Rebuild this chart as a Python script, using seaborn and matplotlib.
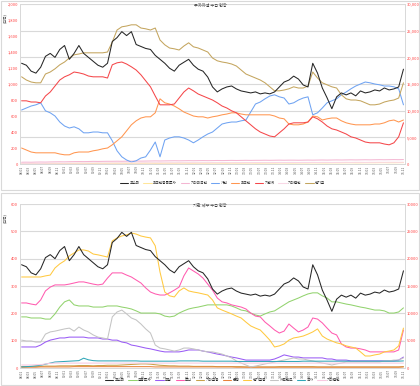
import matplotlib
matplotlib.use("Agg")
import matplotlib.pyplot as plt
from matplotlib.patches import Rectangle
from matplotlib.ticker import FuncFormatter
import seaborn as sns
import numpy as np

# x-axis labels (every other month)
years = [8, 9, 10, 11, 12, 13, 14, 15, 16]
months = [1, 3, 5, 7, 9, 11]
x_labels = [f"{y:02d}.{m:02d}" for y in years for m in months]

# ---- shared series (right axis) ----
kospi = [18890, 18520, 17410, 17040, 18150, 20190, 20740, 20000, 21480, 22220,
         19630, 20740, 22220, 20740, 20000, 19260, 18520, 18150, 18890, 22960,
         23700, 24820, 24080, 24820, 22410, 22040, 21670, 21480, 20370, 19630,
         18890, 17960, 17410, 18520, 19080, 19630, 18520, 17780, 17410, 16300,
         14450, 13520, 14080, 14450, 14630, 14080, 13700, 13520, 13330, 13520,
         13150, 13330, 13150, 13520, 14450, 15370, 15740, 16480, 15930, 14820,
         14450, 18890, 17040, 14260, 12410, 10370, 12590, 13330, 12960, 13330,
         12780, 13700, 13330, 13520, 13890, 13700, 14260, 13890, 14080, 14450,
         17780]

# ---- top chart (left axis) ----
frgn_reg = [6, 6, 5, 5, 6, 6, 7, 7, 6, 6, 7, 7, 8, 8, 7, 7, 8, 8, 8, 9,
            9, 9, 8, 8, 9, 9, 10, 10, 9, 9, 10, 10, 10, 11, 11, 10, 10, 11, 11, 11,
            12, 12, 11, 11, 12, 12, 12, 13, 13, 12, 12, 13, 13, 13, 14, 14, 13, 13, 14, 14,
            14, 15, 15, 14, 14, 15, 15, 15, 16, 16, 15, 15, 16, 16, 16, 17, 17, 16, 16, 17,
            18]
frgn_etc = [22, 23, 22, 24, 25, 24, 26, 27, 28, 27, 29, 30, 31, 30, 31, 33, 32, 33, 34, 34,
            35, 34, 35, 36, 37, 36, 37, 38, 39, 38, 39, 40, 41, 40, 41, 42, 41, 42, 43, 42,
            43, 44, 43, 44, 45, 44, 45, 46, 45, 46, 46, 47, 46, 47, 48, 47, 48, 48, 47, 48,
            49, 48, 49, 50, 49, 50, 51, 50, 51, 52, 51, 52, 53, 52, 53, 54, 53, 54, 55, 54,
            56]
individual = [675, 700, 725, 740, 765, 665, 640, 600, 525, 475,
              450, 465, 440, 390, 390, 400, 400, 390, 390, 290,
              165, 90, 50, 25, 40, 75, 90, 175, 275, 90,
              300, 325, 340, 340, 325, 300, 265, 300, 340, 375,
              400, 450, 500, 515, 525, 525, 540, 550, 650, 750,
              775, 815, 850, 865, 840, 825, 750, 765, 800, 825,
              840, 615, 640, 700, 765, 790, 815, 865, 900, 940,
              975, 1000, 1025, 1015, 1000, 990, 975, 975, 965, 940,
              740]
foreign = [200, 175, 150, 140, 140, 140, 140, 140, 125, 115,
           115, 140, 150, 150, 150, 165, 175, 190, 200, 240,
           290, 340, 415, 490, 540, 575, 590, 590, 640, 815,
           765, 750, 725, 690, 650, 625, 600, 590, 590, 575,
           590, 600, 615, 625, 640, 640, 625, 615, 615, 615,
           615, 615, 615, 600, 575, 565, 500, 490, 490, 500,
           525, 600, 590, 550, 565, 575, 575, 540, 515, 500,
           490, 490, 490, 490, 500, 500, 515, 540, 550, 525,
           550]
institution = [790, 790, 775, 775, 765, 850, 900, 975, 1050, 1090,
               1115, 1150, 1140, 1125, 1100, 1090, 1090, 1090, 1075, 1240,
               1265, 1275, 1250, 1215, 1175, 1115, 1040, 965, 850, 740,
               740, 740, 750, 825, 900, 950, 915, 875, 850, 825,
               800, 765, 725, 700, 665, 640, 590, 540, 490, 440,
               400, 375, 350, 340, 390, 440, 500, 515, 515, 515,
               525, 590, 565, 525, 475, 440, 425, 400, 375, 340,
               325, 300, 275, 265, 265, 265, 250, 240, 265, 340,
               515]
corp_top = [8, 8, 9, 9, 8, 9, 10, 10, 11, 10, 11, 11, 12, 11, 12, 12, 13, 12, 13, 13,
            14, 13, 14, 14, 13, 14, 15, 14, 15, 15, 14, 15, 15, 16, 15, 16, 16, 15, 16, 16,
            17, 16, 17, 17, 16, 17, 17, 18, 17, 18, 18, 17, 18, 18, 19, 18, 19, 19, 18, 19,
            19, 20, 19, 20, 20, 19, 20, 20, 21, 20, 21, 21, 20, 21, 21, 22, 21, 22, 22, 21,
            22]
pension = [1090, 1050, 1025, 1015, 1015, 1125, 1150, 1190, 1240, 1275,
           1325, 1365, 1375, 1390, 1390, 1390, 1390, 1390, 1400, 1525,
           1675, 1715, 1725, 1740, 1740, 1700, 1690, 1675, 1700, 1550,
           1490, 1450, 1440, 1425, 1475, 1515, 1465, 1450, 1425, 1400,
           1325, 1290, 1275, 1265, 1250, 1225, 1175, 1125, 1100, 1075,
           1050, 1015, 965, 915, 915, 925, 940, 965, 950, 950,
           975, 1150, 1075, 1015, 990, 965, 950, 865, 815, 800,
           800, 790, 765, 740, 740, 750, 775, 790, 800, 825,
           1015]

# ---- bottom chart (left axis) ----
fin_invest = [187, 187, 183, 183, 183, 179, 179, 198, 223, 242,
              249, 231, 227, 227, 227, 223, 223, 223, 227, 227,
              227, 223, 220, 216, 209, 201, 201, 201, 201, 198,
              190, 187, 190, 201, 209, 216, 220, 223, 227, 231,
              231, 231, 231, 231, 227, 220, 212, 209, 201, 194,
              190, 198, 205, 209, 220, 231, 242, 249, 256, 264,
              271, 275, 275, 264, 256, 242, 242, 238, 234, 231,
              227, 223, 220, 216, 212, 212, 209, 201, 201, 205,
              220]
insurance = [77, 77, 77, 77, 84, 95, 102, 106, 110, 110,
             113, 113, 113, 113, 110, 110, 110, 106, 106, 102,
             102, 95, 92, 84, 81, 77, 73, 70, 66, 62,
             59, 59, 59, 59, 62, 66, 66, 66, 62, 59,
             55, 51, 48, 44, 40, 37, 33, 29, 29, 29,
             29, 29, 29, 33, 40, 48, 44, 40, 40, 37,
             37, 37, 37, 37, 33, 33, 29, 29, 29, 26,
             26, 26, 26, 26, 26, 26, 26, 26, 26, 29,
             40]
trust = [238, 238, 234, 231, 249, 282, 296, 304, 304, 304,
         307, 311, 315, 315, 311, 307, 304, 307, 329, 348,
         348, 348, 340, 333, 322, 311, 293, 278, 271, 267,
         267, 275, 285, 296, 337, 366, 355, 344, 329, 307,
         285, 256, 242, 238, 231, 227, 223, 216, 201, 190,
         187, 168, 154, 139, 128, 135, 161, 146, 132, 139,
         150, 183, 179, 165, 146, 128, 121, 88, 77, 73,
         73, 70, 66, 59, 59, 59, 59, 59, 59, 66,
         139]
other_fin = [5, 5, 6, 6, 6, 7, 7, 7, 8, 8, 8, 8, 9, 9, 9, 8, 9, 9, 10, 10,
             10, 11, 12, 13, 14, 15, 15, 14, 12, 10, 9, 8, 8, 7, 7, 7, 6, 6, 6, 6,
             6, 5, 5, 5, 5, 5, 5, 4, 4, 4, 4, 4, 4, 4, 5, 5, 5, 5, 5, 5,
             5, 5, 4, 4, 4, 4, 4, 4, 4, 4, 4, 4, 4, 4, 4, 4, 4, 4, 4, 4,
             5]
bank = [3, 3, 3, 3, 4, 4, 4, 4, 4, 4, 4, 5, 5, 5, 5, 5, 5, 5, 5, 5,
        5, 5, 5, 5, 5, 5, 5, 5, 4, 4, 4, 4, 4, 4, 4, 4, 4, 4, 4, 4,
        4, 4, 4, 4, 4, 3, 3, 3, 3, 3, 3, 3, 3, 3, 3, 3, 3, 3, 3, 3,
        3, 3, 3, 3, 3, 3, 3, 3, 3, 3, 3, 3, 3, 3, 3, 3, 3, 3, 3, 3,
        4]
pension_fund = [333, 333, 333, 333, 333, 337, 340, 366, 381, 392,
                410, 421, 432, 432, 428, 417, 414, 410, 406, 465,
                476, 483, 487, 494, 490, 483, 479, 476, 447, 351,
                278, 264, 260, 282, 293, 282, 278, 275, 271, 267,
                249, 220, 212, 205, 198, 190, 183, 168, 154, 146,
                139, 121, 102, 77, 81, 88, 102, 110, 113, 117,
                124, 132, 143, 117, 106, 99, 92, 88, 81, 77,
                73, 59, 44, 44, 48, 51, 59, 62, 66, 81,
                146]
private_fund = [102, 99, 99, 95, 95, 124, 132, 135, 139, 143,
                146, 135, 150, 139, 132, 121, 113, 110, 106, 187,
                205, 212, 198, 183, 176, 161, 143, 128, 84, 73,
                70, 66, 62, 66, 73, 73, 70, 66, 62, 59,
                59, 55, 51, 44, 37, 26, 18, 11, 4, 7,
                11, 15, 18, 22, 26, 29, 33, 37, 33, 33,
                29, 26, 22, 18, 15, 11, 15, 18, 22, 22,
                22, 22, 22, 22, 22, 22, 26, 26, 29, 29,
                37]
state = [4, 5, 6, 8, 10, 14, 18, 22, 23, 24,
         25, 26, 27, 36, 30, 27, 26, 26, 26, 26,
         26, 26, 26, 26, 26, 25, 25, 25, 25, 25,
         25, 25, 25, 26, 26, 26, 26, 26, 25, 25,
         25, 25, 25, 25, 25, 24, 24, 24, 24, 24,
         24, 24, 24, 24, 24, 24, 24, 24, 24, 25,
         25, 25, 25, 25, 25, 25, 25, 25, 25, 25,
         25, 25, 25, 25, 25, 25, 25, 25, 25, 25,
         26]
corp_bot = [11, 11, 11, 12, 12, 15, 17, 18, 18, 18, 18, 18, 18, 18, 18, 18, 18, 18, 18, 18,
            18, 18, 18, 18, 18, 18, 18, 18, 18, 18, 18, 18, 18, 18, 18, 18, 18, 18, 18, 18,
            18, 18, 18, 18, 18, 18, 18, 18, 18, 18, 18, 18, 18, 18, 18, 18, 18, 18, 18, 18,
            18, 18, 18, 18, 18, 18, 18, 18, 18, 18, 18, 18, 18, 18, 18, 18, 18, 18, 18, 18,
            18]

top_left = [("외국인등록투자", frgn_reg, "#FFE699"),
            ("기타외국인", frgn_etc, "#F4B6D2"),
            ("개인", individual, "#6FA3F2"),
            ("외국인", foreign, "#FF9650"),
            ("기관계", institution, "#F5474A"),
            ("기타법인", corp_top, "#F9D8E6"),
            ("연기금", pension, "#C4A55E")]
bot_left = [("금융투자", fin_invest, "#92D36E"),
            ("보험", insurance, "#9A5CF5"),
            ("투신", trust, "#FF5CB0"),
            ("기타금융", other_fin, "#C8A24A"),
            ("은행", bank, "#E8823A"),
            ("연기금등", pension_fund, "#FFC940"),
            ("사모펀드", private_fund, "#C4C4C4"),
            ("국가", state, "#2FA7B8"),
            ("기타법인", corp_bot, "#F8C8E0")]

sns.set_theme(style="white")
plt.rcParams["font.family"] = ["Noto Sans CJK KR", "DejaVu Sans"]
plt.rcParams["axes.unicode_minus"] = False

fig = plt.figure(figsize=(4.2, 3.86), dpi=100)
x = np.arange(len(kospi))
tick_pos = np.linspace(0, len(kospi) - 1, len(x_labels))
comma = FuncFormatter(lambda v, p: f"{int(v):,}")
plain = FuncFormatter(lambda v, p: f"{int(v)}")


def draw(rect, series, left_max, left_step, left_fmt, right_fmt, title, legend_y):
    ax = fig.add_axes(rect)
    ax2 = ax.twinx()
    handles = []
    for lab, vals, col in series:
        sns.lineplot(x=x, y=vals, ax=ax, color=col, linewidth=0.75)
        handles.append((ax.get_lines()[-1], lab))
    sns.lineplot(x=x, y=kospi, ax=ax2, color="#262626", linewidth=0.75)
    handles.insert(0, (ax2.get_lines()[-1], "코스피"))

    ax.set_ylim(0, left_max)
    ax2.set_ylim(0, 30000)
    ax.set_xlim(-0.3, len(kospi) - 0.7)
    ax.set_yticks(np.arange(0, left_max + 1, left_step))
    ax2.set_yticks(np.arange(0, 30001, 5000))
    ax.yaxis.set_major_formatter(left_fmt)
    ax2.yaxis.set_major_formatter(right_fmt)
    for v in np.arange(5000, 30001, 5000):
        ax.axhline(v * left_max / 30000, color="#D9D9D9", lw=0.8, zorder=0)

    ax.set_xticks(tick_pos)
    ax.set_xticklabels(x_labels, rotation=90, fontsize=2.4, color="#595959")
    ax.tick_params(axis="y", labelsize=2.9, colors="#FF4040", length=0, pad=1.5)
    ax.tick_params(axis="x", length=0, pad=1)
    ax2.tick_params(axis="y", labelsize=2.9, colors="#FF4040", length=0, pad=1.5)
    for a in (ax, ax2):
        for s in a.spines.values():
            s.set_color("#D9D9D9")
            s.set_linewidth(0.6)
        a.spines["top"].set_visible(False)
        a.set_xlabel("")
        a.set_ylabel("")

    y_top = rect[1] + rect[3]
    fig.text(0.5, y_top - 0.004, title, ha="center", va="center",
             fontsize=3.0, color="#404040")
    fig.text(0.012, y_top - 0.035, "(천억)", rotation=90, ha="center",
             va="center", fontsize=2.8, color="#404040")
    fig.legend([h for h, _ in handles], [l for _, l in handles],
               loc="center", bbox_to_anchor=(0.53, legend_y), ncol=len(handles),
               fontsize=2.7, frameon=False, handlelength=2.2,
               columnspacing=1.0, handletextpad=0.4)


draw([0.048, 0.5751, 0.916, 0.4145], top_left, 2000, 200, comma, comma,
     "투자자별 수급 현황", 0.526)
draw([0.048, 0.0466, 0.916, 0.4249], bot_left, 600, 100, plain, plain,
     "기관 세부 수급 현황", 0.016)

for y0, h in [(0.507, 0.490), (0.003, 0.497)]:
    fig.patches.append(Rectangle((0.003, y0), 0.994, h, transform=fig.transFigure,
                                 fill=False, edgecolor="#D9D9D9", lw=0.8))

fig.savefig("out.png", dpi=100)
